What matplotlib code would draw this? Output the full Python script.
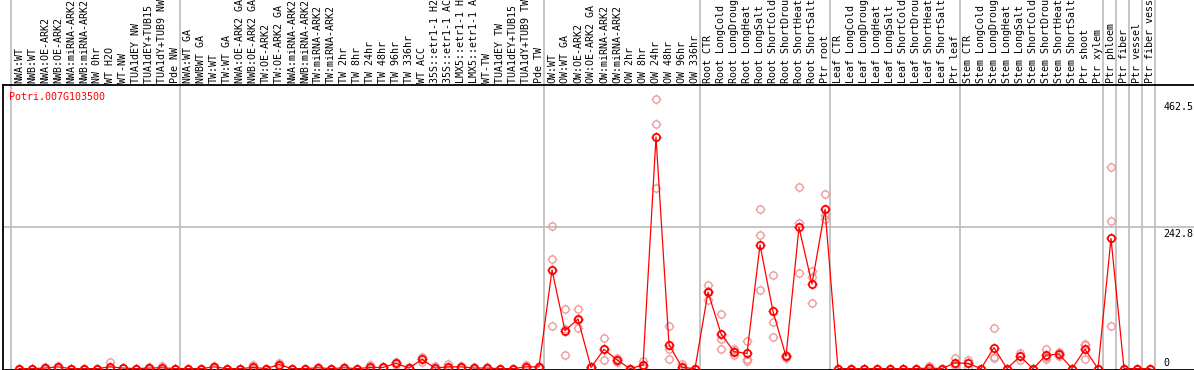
import matplotlib
matplotlib.use("Agg")
import matplotlib.pyplot as plt
from matplotlib.path import Path

samples = [
    "NWA:WT", "NWB:WT", "NWA:OE-ARK2", "NWB:OE-ARK2", "NWA:miRNA-ARK2", "NWB:miRNA-ARK2",
    "NW 0hr", "WT H2O", "WT-NW", "TUA1dEY NW", "TUA1dEY+TUB15 NW", "TUA1dY+TUB9 NW", "Pde NW",
    "NWA:WT GA", "NWBWT GA", "TW:WT", "TW:WT GA", "NWA:OE-ARK2 GA", "NWB:OE-ARK2 GA",
    "TW:OE-ARK2", "TW:OE-ARK2 GA", "NWA:miRNA-ARK2", "NWB:miRNA-ARK2", "TW:miRNA-ARK2",
    "TW:miRNA-ARK2", "TW 2hr", "TW 8hr", "TW 24hr", "TW 48hr", "TW 96hr", "TW 336hr",
    "WT ACC", "35S::etr1-1 H2O", "35S::etr1-1 ACC", "LMX5::etr1-1 H2O", "LMX5::etr1-1 ACC",
    "WT-TW", "TUA1dEY TW", "TUA1dEY+TUB15 TW", "TUA1dY+TUB9 TW", "Pde TW",
    "OW:WT", "OW:WT GA", "OW:OE-ARK2", "OW:OE-ARK2 GA", "OW:miRNA-ARK2", "OW:miRNA-ARK2",
    "OW 2hr", "OW 8hr", "OW 24hr", "OW 48hr", "OW 96hr", "OW 336hr",
    "Root CTR", "Root LongCold", "Root LongDrought", "Root LongHeat", "Root LongSalt",
    "Root ShortCold", "Root ShortDrought", "Root ShortHeat", "Root ShortSalt", "Ptr root",
    "Leaf CTR", "Leaf LongCold", "Leaf LongDrought", "Leaf LongHeat", "Leaf LongSalt",
    "Leaf ShortCold", "Leaf ShortDrought", "Leaf ShortHeat", "Leaf ShortSalt", "Ptr leaf",
    "Stem CTR", "Stem LongCold", "Stem LongDrought", "Stem LongHeat", "Stem LongSalt",
    "Stem ShortCold", "Stem ShortDrought", "Stem ShortHeat", "Stem ShortSalt", "Ptr shoot",
    "Ptr xylem", "Ptr phloem", "Ptr fiber", "Ptr vessel", "Ptr fiber vessel",
]

# group separators (index of last sample in each group)
group_ends = [-1, 12, 40, 52, 62, 72, 83, 84, 85, 86, 87]

mean = [
    0, 0, 1, 3, 0, 0, 0, 3, 1, 0, 1, 1.5, 0,
    0, 0, 3, 0, 0, 2, 0, 7, 0, 0, 1.5, 0, 1.5, 0, 2, 2, 9, 1,
    16, 1, 3, 3, 1, 1, 0, 0, 3, 3,
    169, 65, 85, 2, 33, 15, 0, 6, 397, 41, 2, 0,
    131, 60, 29, 26, 212, 98, 21, 242, 145, 273,
    0, 0, 0, 0, 0, 0, 0, 1, 0, 10,
    9, 0, 36, 0, 21, 0, 23, 25, 0, 33, 0,
    223, 0, 0, 0,
]

rep1 = [
    0, 0, 2, 5, 0, 0, 0, 11, 1, 0, 2, 5, 0,
    0, 0, 5, 0, 0, 6, 0, 9, 0, 0, 3, 0, 3, 0, 7, 3, 11, 2,
    20, 4, 8, 5, 2, 2, 0, 0, 6, 5,
    244, 103, 102, 3, 53, 18, 0, 13, 462.5, 73, 8, 0,
    143, 94, 33, 47, 273, 161, 24, 312, 167, 300,
    0, 0, 0, 0, 0, 0, 0, 4, 0, 18,
    15, 0, 70, 0, 26, 0, 34, 29, 0, 43, 0,
    345, 0, 0, 0,
]

rep2 = [
    0, 0, 1, 3, 0, 0, 0, 0, 1, 0, 1, 0, 0,
    0, 0, 3, 0, 0, 0, 0, 7, 0, 0, 1, 0, 1, 0, 0, 2, 9, 1,
    16, 0, 1, 3, 1, 1, 0, 0, 3, 3,
    187, 68, 84, 2, 33, 15, 0, 4, 420, 34, 0, 0,
    133, 50, 31, 17, 229, 80, 21, 250, 157, 263,
    0, 0, 0, 0, 0, 0, 0, 0, 0, 8,
    9, 0, 20, 0, 22, 0, 20, 25, 0, 40, 0,
    253, 0, 0, 0,
]

rep3 = [
    0, 0, 0, 1, 0, 0, 0, 0, 1, 0, 0, 0, 0,
    0, 0, 1, 0, 0, 0, 0, 5, 0, 0, 0, 0, 0, 0, 0, 1, 7, 0,
    12, 0, 0, 1, 0, 0, 0, 0, 0, 1,
    73, 23, 69, 1, 15, 11, 0, 1, 309, 17, 0, 0,
    117, 33, 23, 13, 134, 55, 19, 163, 113, 257,
    0, 0, 0, 0, 0, 0, 0, 0, 0, 4,
    3, 0, 18, 0, 15, 0, 16, 21, 0, 16, 0,
    73, 0, 0, 0,
]

gene = "Potri.007G103500"
ytick_vals = [462.5, 242.8, 0]
ytick_text = ["462.5", "242.8", "0"]
ytick_shift = [-8, -7, 6]

mono = "DejaVu Sans Mono"
W, H = 1194, 370

fig = plt.figure(figsize=(W / 100, H / 100), dpi=100)
ax = fig.add_axes([3 / W, 0.5 / H, (W - 3) / W, 284.5 / H])

x = list(range(len(samples)))
ax.set_xlim((3 - 19) / 13, (W - 19) / 13)
ax.set_ylim(-1.5, 486)

# circle with little ticks, like the original markers
tick_path = Path(
    [(0, 1), (0, 1.5), (0, -1), (0, -1.5), (1, 0), (1.5, 0), (-1, 0), (-1.5, 0)],
    [Path.MOVETO, Path.LINETO] * 4,
)

pink = "#ee9a9a"
for r in [rep1, rep2, rep3]:
    ax.plot(x, r, ls="none", marker="o", ms=5.2, mfc="none", mec=pink, mew=1, zorder=2)
    ax.plot(x, r, ls="none", marker=tick_path, ms=7.6, mec=pink, mew=0.8, zorder=2)

ax.plot(x, mean, color="red", lw=0.9, zorder=3)
ax.plot(x, mean, ls="none", marker="o", ms=5.2, mfc="none", mec="red", mew=1.3, zorder=4)
ax.plot(x, mean, ls="none", marker=tick_path, ms=7.6, mec="red", mew=1, zorder=4)

grid_col = "#c0c0c0"
for g in group_ends:
    ax.axvline(g + 0.4, ymin=0, ymax=1 + 85 / 284.5, color=grid_col, lw=1.3,
               clip_on=False, zorder=0)
ax.axhline(242.8, color=grid_col, lw=1.3, zorder=0)

# sample names stand upright above the plot and run off the top edge, as in the original
for i, s in enumerate(samples):
    ax.annotate(s, xy=(i, 1), xycoords=("data", "axes fraction"), xytext=(0, 2),
                textcoords="offset pixels", rotation=90, ha="center", va="bottom",
                fontsize=7.2, family=mono)

for v, t, d in zip(ytick_vals, ytick_text, ytick_shift):
    ax.annotate(t, xy=(87.4, v), xytext=(8, d), textcoords="offset pixels",
                ha="left", va="center", fontsize=7.2, family=mono)

ax.annotate(gene, xy=(0, 1), xycoords="axes fraction", xytext=(6, -12),
            textcoords="offset pixels", color="red", fontsize=7.2, family=mono,
            ha="left", va="center")

ax.set_xticks([])
ax.set_yticks([])
ax.spines["right"].set_visible(False)
for k in ["left", "bottom", "top"]:
    ax.spines[k].set_color("black")
    ax.spines[k].set_linewidth(1.3)

fig.savefig("out.png", dpi=100)
